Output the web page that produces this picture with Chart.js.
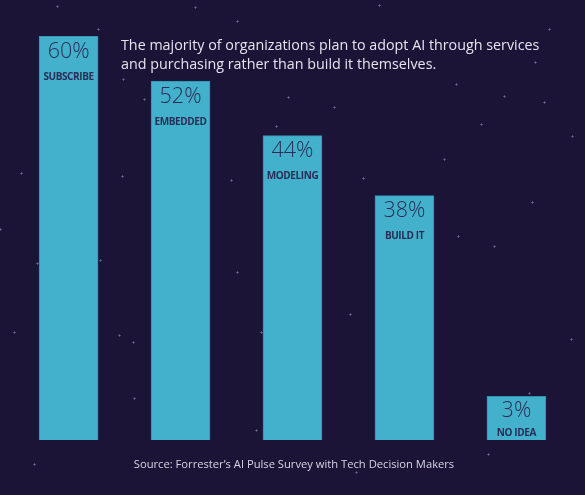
<!DOCTYPE html>
<html>
<head>
<meta charset="utf-8">
<script src="https://cdn.jsdelivr.net/npm/chart.js@4/dist/chart.umd.min.js"></script>
<style>
  html, body { margin: 0; padding: 0; background: #1b1437; }
  #wrap { width: 585px; height: 495px; position: relative; }
</style>
</head>
<body>
<div id="wrap"><canvas id="chart" width="585" height="495"></canvas></div>
<script>
// data
const categories = ['SUBSCRIBE', 'EMBEDDED', 'MODELING', 'BUILD IT', 'NO IDEA'];
const shareLabels = ['60%', '52%', '44%', '38%', '3%'];
// drawn bar heights (the original is not to scale, so these are read from the bars)
const barHeights = [60, 53.3, 45.2, 36.3, 6.5];

const titleLines = [
  'The majority of organizations plan to adopt AI through services',
  'and purchasing rather than build it themselves.'
];
const sourceText = 'Source: Forrester\u2019s AI Pulse Survey with Tech Decision Makers';

// background stars (decoration only)
const stars = [
  [57,6],[195,7],[379,5],[98,29],[237,21],[549,29],[535,62],[123,79],[144,99],
  [288,97],[334,107],[456,84],[504,96],[544,102],[276,126],[481,124],[572,136],
  [155,145],[21,173],[122,176],[231,180],[363,178],[444,159],[532,202],[458,236],
  [494,246],[100,260],[37,263],[237,272],[381,274],[156,291],[350,314],[14,332],
  [119,335],[133,342],[261,332],[268,343],[571,339],[134,398],[529,393],[256,430],
  [488,454],[34,464],[356,472],[0,229]
];

const starPlugin = {
  id: 'stars',
  beforeDraw(chart) {
    const ctx = chart.ctx;
    ctx.save();
    ctx.fillStyle = '#1b1437';
    ctx.fillRect(0, 0, chart.width, chart.height);
    ctx.fillStyle = 'rgba(140,140,180,0.45)';
    stars.forEach(s => {
      ctx.fillRect(s[0] - 1, s[1], 3, 1);
      ctx.fillRect(s[0], s[1] - 1, 1, 3);
    });
    ctx.restore();
  }
};

const textPlugin = {
  id: 'texts',
  afterDatasetsDraw(chart) {
    const ctx = chart.ctx;
    const meta = chart.getDatasetMeta(0);
    ctx.save();
    ctx.textAlign = 'center';
    ctx.textBaseline = 'alphabetic';
    meta.data.forEach((bar, i) => {
      const h = bar.base - bar.y;
      ctx.fillStyle = '#2a2d55';
      ctx.font = '300 21.5px "Open Sans"';
      ctx.fillText(shareLabels[i], bar.x, bar.y + Math.min(21.5, h * 0.47));
      ctx.font = 'bold 10px "Open Sans"';
      ctx.letterSpacing = '-0.4px';
      ctx.fillText(categories[i], bar.x, bar.y + Math.min(43.5, h - 4));
      ctx.letterSpacing = '0px';
    });

    ctx.textAlign = 'left';
    ctx.fillStyle = '#e6e4ee';
    ctx.font = '14.3px "Open Sans"';
    titleLines.forEach((line, i) => ctx.fillText(line, 121, 50 + i * 18.5));

    ctx.textAlign = 'center';
    ctx.font = '11.2px "Open Sans"';
    ctx.fillStyle = '#d6d6e2';
    ctx.fillText(sourceText, 294, 468);
    ctx.restore();
  }
};

new Chart(document.getElementById('chart'), {
  type: 'bar',
  data: {
    labels: categories,
    datasets: [{
      data: barHeights,
      backgroundColor: '#43b1cc',
      borderColor: '#358fae',
      borderWidth: 1,
      barThickness: 59
    }]
  },
  options: {
    responsive: false,
    animation: false,
    layout: { padding: { left: 12.6, right: 12.6, top: 36, bottom: 55 } },
    plugins: { legend: { display: false }, tooltip: { enabled: false } },
    scales: {
      x: { display: false },
      y: { display: false, min: 0, max: 60 }
    }
  },
  plugins: [starPlugin, textPlugin]
});
</script>
</body>
</html>
